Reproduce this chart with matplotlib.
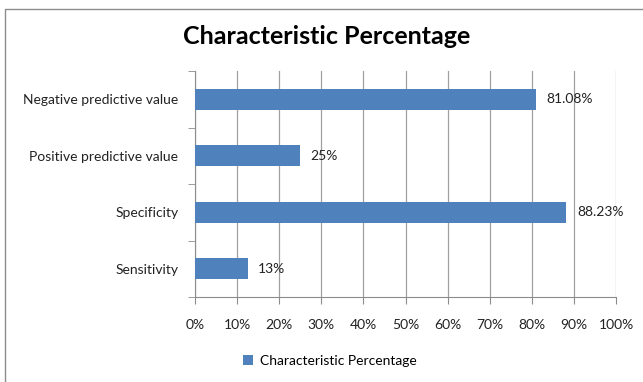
import matplotlib.pyplot as plt
from matplotlib.patches import Rectangle

categories = ["Sensitivity", "Specificity", "Positive predictive value", "Negative predictive value"]
values = [12.5, 88.23, 25, 81.08]
labels = ["13%", "88.23%", "25%", "81.08%"]
series_name = "Characteristic Percentage"

plt.rcParams['font.family'] = ['Lato', 'DejaVu Sans']

fig = plt.figure(figsize=(6.43, 3.82), dpi=100)
ax = fig.add_axes([195 / 643, 1 - 297 / 382, 421 / 643, 226 / 382])

# outer chart frame
fig.patches.append(Rectangle((5 / 643, -0.1), 1.1, (382 - 9) / 382 + 0.1,
                             transform=fig.transFigure, fill=False,
                             edgecolor="#8c8c8c", linewidth=1.0))

y = range(len(categories))
bars = ax.barh(y, values, height=0.38, color="#4F81BD", label=series_name, zorder=3)
for b, lab in zip(bars, labels):
    ax.text(b.get_width() + 2.5, b.get_y() + b.get_height() / 2, lab,
            va="center", ha="left", fontsize=10, color="#222222")

ax.set_xlim(0, 100)
ax.set_ylim(-0.5, len(categories) - 0.5)
ax.set_xticks(range(0, 101, 10))
ax.set_xticklabels([f"{v}%" for v in range(0, 101, 10)], fontsize=10, color="#222222")
ax.set_yticks(list(y))
ax.set_yticklabels(categories, fontsize=10, color="#222222")
ax.set_yticks([i - 0.5 for i in range(len(categories) + 1)], minor=True)

ax.grid(axis="x", color="#a0a0a0", linewidth=0.9, zorder=0)
for s in ["top", "right"]:
    ax.spines[s].set_visible(False)
for s in ["left", "bottom"]:
    ax.spines[s].set_color("#8c8c8c")
ax.tick_params(axis="y", which="major", length=0, pad=12)
ax.tick_params(axis="y", which="minor", length=5, color="#8c8c8c")
ax.tick_params(axis="x", length=5, color="#8c8c8c", pad=11)

fig.text(327 / 643, 1 - 37 / 382, "Characteristic Percentage", ha="center", va="center",
         fontsize=18, fontweight="bold", color="black")

fig.legend(loc="center", bbox_to_anchor=(330 / 643, 1 - 361 / 382), frameon=False,
           fontsize=10, handlelength=0.7, handleheight=0.7, handletextpad=0.5)

fig.savefig("out.png", dpi=100)
